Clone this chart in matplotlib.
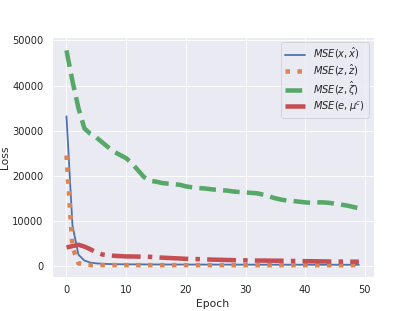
import matplotlib
matplotlib.use("Agg")
import matplotlib.pyplot as plt
import seaborn as sns
import numpy as np

sns.set_theme()

epochs = list(range(50))

mse_x = [33200, 9000, 2500, 1200, 750, 580, 480, 430, 400, 380,
         370, 360, 350, 345, 340, 335, 330, 325, 320, 318,
         315, 312, 310, 308, 305, 303, 300, 298, 296, 294,
         292, 290, 288, 286, 285, 284, 282, 280, 279, 278,
         276, 275, 274, 272, 271, 270, 268, 267, 266, 265]

mse_z = [24500, 4200, 600, 260, 220, 210, 205, 200, 198, 196,
         195, 194, 193, 192, 191, 190, 190, 189, 188, 188,
         187, 187, 186, 186, 185, 185, 184, 184, 183, 183,
         182, 182, 181, 181, 180, 180, 180, 179, 179, 179,
         178, 178, 178, 177, 177, 177, 176, 176, 176, 175]

mse_zeta = [47800, 41000, 35000, 30500, 29300, 28500, 27400, 26300, 25300, 24600,
            23900, 22700, 21200, 19700, 18900, 18700, 18400, 18250, 18150, 18000,
            17650, 17450, 17300, 17200, 17050, 16900, 16800, 16700, 16500, 16400,
            16300, 16200, 16100, 15800, 15400, 15000, 14700, 14500, 14400, 14250,
            14100, 14000, 14100, 14100, 14000, 13800, 13600, 13400, 13100, 12800]

mse_e = [4100, 4400, 4700, 4300, 3700, 3000, 2550, 2350, 2250, 2180,
         2120, 2100, 2080, 2060, 2030, 1950, 1850, 1780, 1720, 1660,
         1580, 1540, 1520, 1470, 1420, 1390, 1360, 1320, 1290, 1270,
         1250, 1220, 1200, 1190, 1180, 1170, 1160, 1140, 1110, 1090,
         1070, 1050, 1030, 1010, 990, 980, 970, 960, 950, 940]

labels = [r"$MSE(x,\hat{x})$", r"$MSE(z,\hat{z})$",
          r"$MSE(z,\hat{\zeta})$", r"$MSE(e,\mu^c)$"]

pal = sns.color_palette("deep")

fig, ax = plt.subplots(figsize=(415 / 64.8, 311 / 64.8), dpi=64.8)
ax.plot(epochs, mse_x, color=pal[0], lw=2, linestyle="-", label=labels[0])
ax.plot(epochs, mse_z, color=pal[1], lw=5, linestyle=":", label=labels[1])
ax.plot(epochs, mse_zeta, color=pal[2], lw=5, linestyle="--", label=labels[2])
ax.plot(epochs, mse_e, color=pal[3], lw=5, linestyle="-.", label=labels[3])

ax.set_xlabel("Epoch")
ax.set_ylabel("Loss", labelpad=2)
ax.set_xticks([0, 10, 20, 30, 40, 50])
ax.set_yticks([0, 10000, 20000, 30000, 40000, 50000])
ax.set_ylim(-2400, 50700)
ax.legend(loc="upper right", labelspacing=0.15)

fig.savefig("out.png", dpi=64.8)
